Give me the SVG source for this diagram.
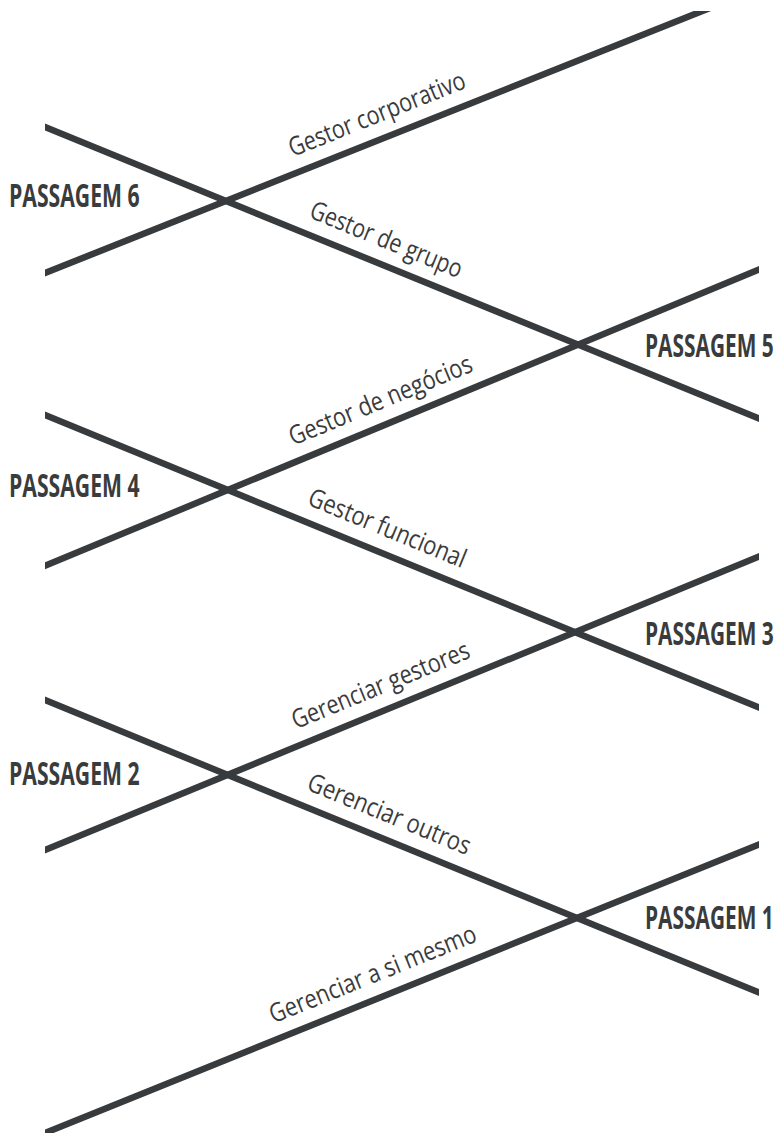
<svg xmlns="http://www.w3.org/2000/svg" width="783" height="1133" viewBox="0 0 783 1133">
  <style>
    .ln { stroke: #383b3e; stroke-width: 6.5; fill: none; }
    .lbl { font-family: "Open Sans", "Liberation Sans", sans-serif; font-size: 26px; fill: #3a3b3d; text-anchor: middle; }
    .pass { font-family: "Open Sans", "Liberation Sans", sans-serif; font-size: 32px; font-weight: bold; fill: #3a3b3d; }
  </style>
  <defs>
    <clipPath id="clip">
      <rect x="45" y="11" width="714" height="1122"/>
    </clipPath>
  </defs>
  <rect width="783" height="1133" fill="#ffffff"/>
  <g id="connectors" clip-path="url(#clip)">
    <line class="ln" x1="35" y1="277" x2="720" y2="4"/>
    <line class="ln" x1="35" y1="123" x2="770" y2="423"/>
    <line class="ln" x1="35" y1="570" x2="770" y2="265"/>
    <line class="ln" x1="35" y1="411" x2="770" y2="712"/>
    <line class="ln" x1="35" y1="854" x2="770" y2="552"/>
    <line class="ln" x1="35" y1="696" x2="770" y2="997"/>
    <line class="ln" x1="35" y1="1137" x2="770" y2="840"/>
  </g>
  <g id="label-gestor-corporativo"><text class="lbl" transform="translate(386,137) rotate(-21.7)" x="0" y="-16" textLength="188" lengthAdjust="spacingAndGlyphs">Gestor corporativo</text></g>
  <g id="label-gestor-de-grupo"><text class="lbl" transform="translate(377,262.5) rotate(22.2)" x="0" y="-16" textLength="162" lengthAdjust="spacingAndGlyphs">Gestor de grupo</text></g>
  <g id="label-gestor-de-negocios"><text class="lbl" transform="translate(390,423) rotate(-22.5)" x="0" y="-16" textLength="196" lengthAdjust="spacingAndGlyphs">Gestor de negócios</text></g>
  <g id="label-gestor-funcional"><text class="lbl" transform="translate(378,551) rotate(22.3)" x="0" y="-16" textLength="168" lengthAdjust="spacingAndGlyphs">Gestor funcional</text></g>
  <g id="label-gerenciar-gestores"><text class="lbl" transform="translate(390,708) rotate(-22.3)" x="0" y="-16" textLength="190" lengthAdjust="spacingAndGlyphs">Gerenciar gestores</text></g>
  <g id="label-gerenciar-outros"><text class="lbl" transform="translate(380,837) rotate(22.3)" x="0" y="-16" textLength="174" lengthAdjust="spacingAndGlyphs">Gerenciar outros</text></g>
  <g id="label-gerenciar-a-si-mesmo"><text class="lbl" transform="translate(382,997) rotate(-22)" x="0" y="-16" textLength="221" lengthAdjust="spacingAndGlyphs">Gerenciar a si mesmo</text></g>
  <g id="passagem-6"><text class="pass" transform="translate(9,207) scale(0.66,1)" textLength="198" lengthAdjust="spacingAndGlyphs">PASSAGEM 6</text></g>
  <g id="passagem-5"><text class="pass" transform="translate(645,357) scale(0.66,1)" textLength="195" lengthAdjust="spacingAndGlyphs">PASSAGEM 5</text></g>
  <g id="passagem-4"><text class="pass" transform="translate(9,497) scale(0.66,1)" textLength="198" lengthAdjust="spacingAndGlyphs">PASSAGEM 4</text></g>
  <g id="passagem-3"><text class="pass" transform="translate(645,645) scale(0.66,1)" textLength="195" lengthAdjust="spacingAndGlyphs">PASSAGEM 3</text></g>
  <g id="passagem-2"><text class="pass" transform="translate(9,785) scale(0.66,1)" textLength="198" lengthAdjust="spacingAndGlyphs">PASSAGEM 2</text></g>
  <g id="passagem-1"><text class="pass" transform="translate(645,929) scale(0.66,1)" textLength="195" lengthAdjust="spacingAndGlyphs">PASSAGEM 1</text></g>
</svg>
